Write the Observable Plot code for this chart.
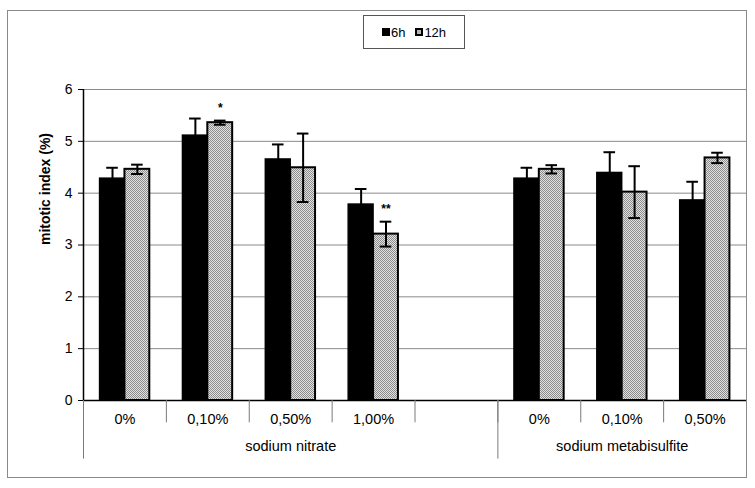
<!DOCTYPE html>
<html>
<head>
<meta charset="utf-8">
<script src="https://cdn.jsdelivr.net/npm/d3@7"></script>
<script src="https://cdn.jsdelivr.net/npm/@observablehq/plot@0.6"></script>
<style>
  html, body { margin: 0; padding: 0; background: #fff; }
  body { width: 755px; height: 488px; position: relative; overflow: hidden; font-family: "Liberation Sans", Arial, sans-serif; }
  #frame { position: absolute; left: 7px; top: 10px; width: 740px; height: 468px; border: 1px solid #8a8a8a; box-sizing: border-box; pointer-events: none; }
  #chart { position: absolute; left: 0; top: 0; }
  #legend { position: absolute; left: 363px; top: 15px; width: 102px; height: 34px; border: 1px solid #555; box-sizing: border-box; background: #fff;
            display: flex; align-items: center; justify-content: center; gap: 10px; font-size: 13px; color: #000; }
  .item { display: flex; align-items: center; }
  .sw { display: inline-block; width: 8px; height: 8px; margin-right: 1px; box-sizing: border-box; }
  .sw6 { background: #000; }
  .sw12 { background: #b5b5b5; border: 2px solid #000; }
</style>
</head>
<body>
<div id="chart"></div>
<div id="legend"><span class="item"><span class="sw sw6"></span>6h</span><span class="item"><span class="sw sw12"></span>12h</span></div>
<div id="frame"></div>
<script>
// ---- data ----
const slots   = ["0%", "0,10%", "0,50%", "1,00%", "", "0%", "0,10%", "0,50%"];
const groups  = ["sodium nitrate", "sodium metabisulfite"];
const groupSlot = [2, 6];               // slot under which each group label is centred
const groupEdges = [0, 5, 8];           // long separators
const series  = ["6h", "12h"];
const mean6h  = [4.28, 5.11, 4.65, 3.78, null, 4.28, 4.39, 3.86];
const err6h   = [0.21, 0.33, 0.29, 0.30, null, 0.21, 0.40, 0.36];
const mean12h = [4.46, 5.36, 4.49, 3.21, null, 4.46, 4.02, 4.68];
const err12h  = [0.09, 0.04, 0.66, 0.24, null, 0.08, 0.50, 0.10];
const sig12h  = ["", "*", "", "**", "", "", "", ""];
const yTicks  = [0, 1, 2, 3, 4, 5, 6];

// ---- layout constants (fractions of a category slot) ----
const barStart = 0.2, barW = 0.3, capHalf = 0.07;

const rows = [];
slots.forEach((s, i) => {
  if (mean6h[i] != null) rows.push({i, s, ser: "6h", v: mean6h[i], e: err6h[i], sig: "", k: 0});
  if (mean12h[i] != null) rows.push({i, s, ser: "12h", v: mean12h[i], e: err12h[i], sig: sig12h[i], k: 1});
});
const x1 = d => d.i + barStart + d.k * barW;
const x2 = d => d.i + barStart + (d.k + 1) * barW;
const xc = d => d.i + barStart + (d.k + 0.5) * barW;
const r6 = rows.filter(d => d.ser === "6h");
const r12 = rows.filter(d => d.ser === "12h");
const boundaries = d3.range(0, slots.length + 1);
const slotIdx = slots.map((s, i) => ({s, i})).filter(d => d.s !== "");
const grpRows = groups.map((g, j) => ({g, i: groupSlot[j]}));

const font = "Liberation Sans, Arial, sans-serif";

const chart = Plot.plot({
  width: 755,
  height: 488,
  marginLeft: 83,
  marginRight: 9,
  marginTop: 89,
  marginBottom: 88,
  style: {fontFamily: font, fontSize: "14px", color: "#000", background: "transparent"},
  x: {type: "linear", domain: [0, slots.length], axis: null},
  y: {type: "linear", domain: [0, 6], axis: null},
  marks: [
    Plot.ruleY(yTicks.filter(t => t > 0), {stroke: "#8a8a8a", strokeWidth: 1}),
    Plot.rectY(r6, {x1, x2, y1: 0, y2: "v", fill: "#000", stroke: "#000", strokeWidth: 1.5}),
    Plot.rectY(r12, {x1, x2, y1: 0, y2: "v", fill: "url(#chk)", stroke: "#000", strokeWidth: 2}),
    Plot.ruleX(rows, {x: xc, y1: d => d.v - d.e, y2: d => d.v + d.e, stroke: "#000", strokeWidth: 2}),
    Plot.ruleY(rows, {x1: d => xc(d) - capHalf, x2: d => xc(d) + capHalf, y: d => d.v + d.e, stroke: "#000", strokeWidth: 2}),
    Plot.ruleY(rows, {x1: d => xc(d) - capHalf, x2: d => xc(d) + capHalf, y: d => d.v - d.e, stroke: "#000", strokeWidth: 2}),
    Plot.text(r12.filter(d => d.sig), {x: xc, y: d => d.v + d.e, text: "sig", dy: -9, lineAnchor: "bottom", fontWeight: "bold", fontSize: 12}),
    // axes
    Plot.ruleY([0], {stroke: "#000", strokeWidth: 1.5}),
    Plot.ruleX([0], {y1: 0, y2: 6, stroke: "#000", strokeWidth: 1.5}),
    Plot.axisY({ticks: yTicks, tickSize: 5, tickPadding: 6, label: null, fontSize: 14, tickFormat: d => String(d)}),
    Plot.ruleX(boundaries, {x: d => d, y1: 0, y2: -0.43, stroke: "#7a7a7a", strokeWidth: 1}),
    Plot.ruleX(groupEdges, {x: d => d, y1: 0, y2: -1.13, stroke: "#7a7a7a", strokeWidth: 1}),
    Plot.text(slotIdx, {x: d => d.i + 0.5, y: 0, text: "s", dy: 19, fontSize: 14.5}),
    Plot.text(grpRows, {x: d => d.i + 0.5, y: 0, text: "g", dy: 46, fontSize: 14.5}),
    Plot.text(["mitotic index (%)"], {frameAnchor: "left", dx: -38, rotate: -90, fontWeight: "bold", fontSize: 14})
  ]
});

// checkered fill pattern for the 12h bars
const ns = "http://www.w3.org/2000/svg";
const defs = document.createElementNS(ns, "defs");
defs.innerHTML = '<pattern id="chk" width="2" height="2" patternUnits="userSpaceOnUse">' +
  '<rect width="2" height="2" fill="#e2e2e2"/><rect width="1" height="1" fill="#8c8c8c"/>' +
  '<rect x="1" y="1" width="1" height="1" fill="#8c8c8c"/></pattern>';
chart.insertBefore(defs, chart.firstChild);
document.getElementById("chart").appendChild(chart);
</script>
</body>
</html>
